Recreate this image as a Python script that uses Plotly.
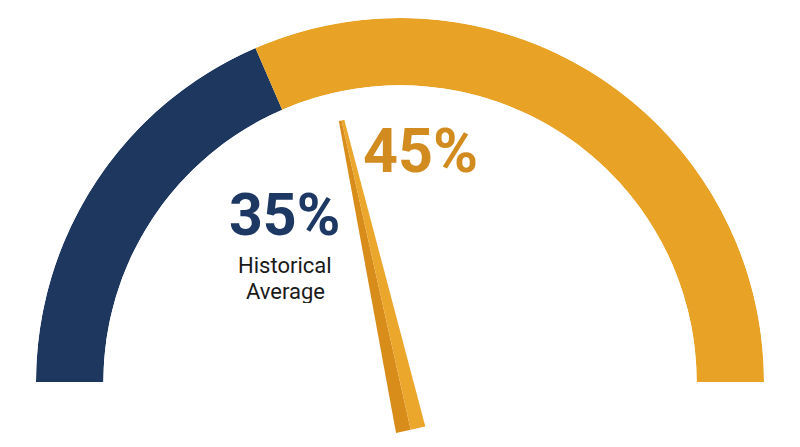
import numpy as np
import plotly.graph_objects as go

# gauge data
band_labels = ["Historical", "Current"]
band_values = [37, 63]          # share of the half circle (percent)
band_colors = ["#1d375f", "#e8a326"]
needle_value = 43               # where the needle points (percent)
current_label = "45%"
hist_label = "35%"
hist_caption = ["Historical", "Average"]

# geometry in pixels for the 800x447 page
W, H = 800, 447
cx, cy, R = 400, 382, 364
hole = 0.815

# --- ring as a half polar bar chart -------------------------------------
theta_c, widths = [], []
start = 0
for v in band_values:
    theta_c.append((start + v / 2) * 1.8)
    widths.append(v * 1.8)
    start += v

fig = go.Figure()
fig.add_trace(
    go.Barpolar(
        r=[1] * len(band_values),
        theta=theta_c,
        width=widths,
        marker=dict(color=band_colors, line=dict(width=0)),
        hoverinfo="skip",
        showlegend=False,
    )
)

# --- needle in gauge units (centre 0,0 / outer radius 1) ---------------
ang = np.pi * (1 - needle_value / 100)
u = np.array([np.cos(ang), np.sin(ang)])
n = np.array([np.sin(ang), -np.cos(ang)])
tip_len, tail_len = 268 / R, 49 / R
base_hw, tip_hw = 15 / R, 2.8 / R

tail = -tail_len * u
tip = tip_len * u
left_face = [tail, tail - base_hw * n, tip - tip_hw * n, tip]
right_face = [tail, tail + base_hw * n, tip + tip_hw * n, tip]

for face, col in [(left_face, "#d88d1b"), (right_face, "#eba72c")]:
    xs = [p[0] for p in face] + [face[0][0]]
    ys = [p[1] for p in face] + [face[0][1]]
    fig.add_trace(
        go.Scatter(
            x=xs, y=ys, mode="lines", fill="toself",
            fillcolor=col, line=dict(width=0, color=col),
            hoverinfo="skip", showlegend=False,
        )
    )

fig.update_layout(
    width=W,
    height=H,
    margin=dict(l=0, r=0, t=0, b=0),
    paper_bgcolor="white",
    plot_bgcolor="rgba(0,0,0,0)",
    polar=dict(
        domain=dict(x=[(cx - R) / W, (cx + R) / W], y=[(H - cy) / H, (H - cy + R) / H]),
        sector=[0, 180],
        hole=hole,
        bgcolor="rgba(0,0,0,0)",
        radialaxis=dict(range=[0, 1], visible=False),
        angularaxis=dict(rotation=180, direction="clockwise", visible=False),
    ),
    xaxis=dict(range=[-cx / R, (W - cx) / R], visible=False, fixedrange=True),
    yaxis=dict(range=[-(H - cy) / R, cy / R], visible=False, fixedrange=True),
    font=dict(family="Roboto, Arial, sans-serif"),
)

# labels, positioned in gauge units
fig.add_annotation(
    x=(420 - cx) / R, y=(cy - 151) / R, text="<b>" + current_label + "</b>",
    showarrow=False, height=50, font=dict(size=61, color="#d18b1e"),
)
fig.add_annotation(
    x=(284 - cx) / R, y=(cy - 214) / R, text="<b>" + hist_label + "</b>",
    showarrow=False, height=50, font=dict(size=59, color="#1e3864"),
)
for i, line in enumerate(hist_caption):
    fig.add_annotation(
        x=(285 - cx) / R, y=(cy - 265 - 26 * i) / R, text=line,
        showarrow=False, height=24, font=dict(size=22, color="#1a1a1a"),
    )

# page body has a default 8px margin; drop it so the figure sits at 0,0
fig.write_html(
    "out.html",
    config={"displayModeBar": False},
    post_script="document.body.style.margin='0px';",
)
